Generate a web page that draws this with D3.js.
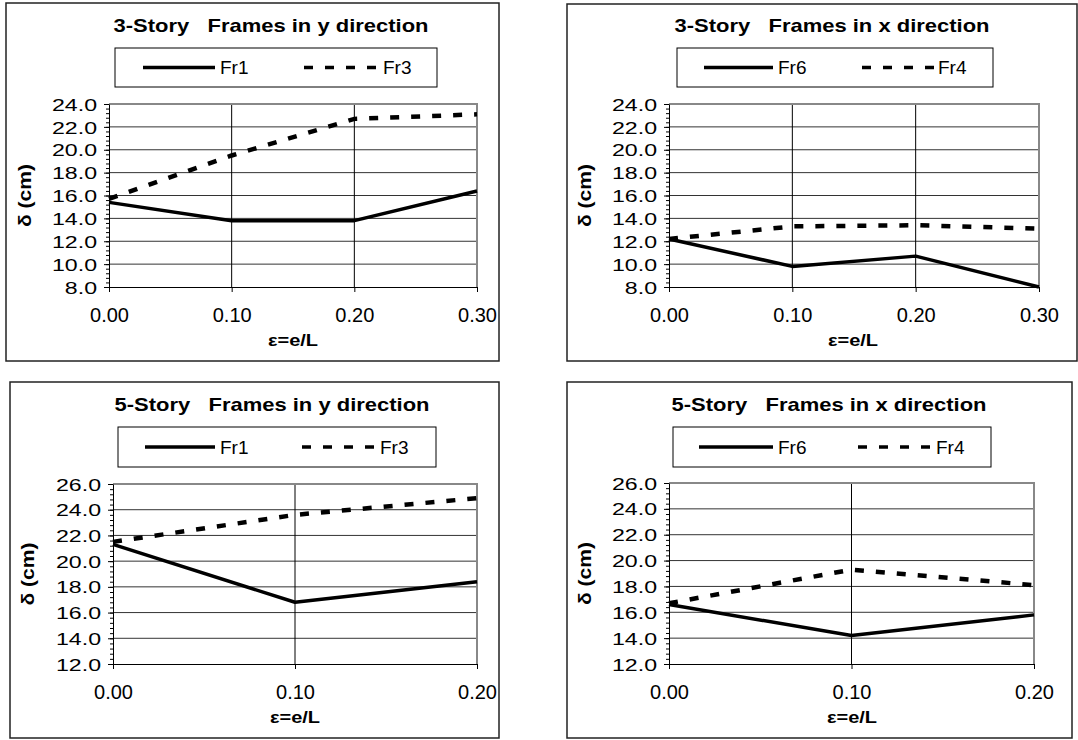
<!DOCTYPE html>
<html>
<head>
<meta charset="UTF-8">
<script src="https://d3js.org/d3.v7.min.js"></script>
<style>
  body { margin: 0; background: #fff; }
  svg text { font-family: "Liberation Sans", Arial, sans-serif; fill: #000; }
  .ttl { white-space: pre; }
</style>
</head>
<body>
<svg id="chart" width="1078" height="740"></svg>
<script>
// eccentricity values
const xs3 = [0, 0.1, 0.2, 0.3];
const xs5 = [0, 0.1, 0.2];
const xTicks3 = [0, 0.1, 0.2, 0.3];
const xTicks5 = [0, 0.1, 0.2];
const yTicks3 = [8, 10, 12, 14, 16, 18, 20, 22, 24];
const yTicks5 = [12, 14, 16, 18, 20, 22, 24, 26];

// drift values (cm)
const fr1_3y = [15.4, 13.8, 13.8, 16.4];
const fr3_3y = [15.7, 19.5, 22.7, 23.1];
const fr6_3x = [12.2, 9.8, 10.7, 8.0];
const fr4_3x = [12.2, 13.3, 13.4, 13.1];
const fr1_5y = [21.3, 16.8, 18.4];
const fr3_5y = [21.5, 23.6, 24.9];
const fr6_5x = [16.6, 14.2, 15.8];
const fr4_5x = [16.7, 19.3, 18.1];

const titles = ["3-Story   Frames in y direction", "3-Story   Frames in x direction",
                "5-Story   Frames in y direction", "5-Story   Frames in x direction"];
const solidNames = ["Fr1", "Fr6", "Fr1", "Fr6"];
const dashNames = ["Fr3", "Fr4", "Fr3", "Fr4"];

const panels = [
  {box: [6, 3, 499, 361], plot: [109, 104, 477, 287], xs: xs3, xt: xTicks3, yt: yTicks3,
   solid: fr1_3y, dash: fr3_3y, tX: 271, tY: 25, legBox: [115, 48, 437, 87], leg: [143, 215, 304, 380],
   dX: 25, eX: 293, eY: 340},
  {box: [567, 4, 1077, 361], plot: [669, 104, 1039, 287], xs: xs3, xt: xTicks3, yt: yTicks3,
   solid: fr6_3x, dash: fr4_3x, tX: 832, tY: 25, legBox: [677, 48, 993, 87], leg: [704, 773, 862, 935],
   dX: 585, eX: 853, eY: 340},
  {box: [10, 382, 499, 738], plot: [113, 484, 477, 664], xs: xs5, xt: xTicks5, yt: yTicks5,
   solid: fr1_5y, dash: fr3_5y, tX: 272, tY: 404, legBox: [118, 427, 436, 467], leg: [145, 215, 302, 377],
   dX: 28, eX: 295, eY: 717},
  {box: [567, 382, 1072, 738], plot: [669, 483, 1034, 664], xs: xs5, xt: xTicks5, yt: yTicks5,
   solid: fr6_5x, dash: fr4_5x, tX: 829, tY: 404, legBox: [673, 427, 991, 467], leg: [699, 773, 858, 933],
   dX: 585, eX: 852, eY: 717}
];

const svg = d3.select("#chart");

// widen a text element horizontally (the scanned chart is stretched)
function stretch(sel, k) {
  sel.each(function () {
    const w = this.getComputedTextLength();
    d3.select(this).attr("textLength", w * k).attr("lengthAdjust", "spacingAndGlyphs");
  });
}

panels.forEach((p, i) => {
  const [bx0, by0, bx1, by1] = p.box;
  const [px0, py0, px1, py1] = p.plot;
  const g = svg.append("g");

  g.append("rect").attr("x", bx0).attr("y", by0).attr("width", bx1 - bx0).attr("height", by1 - by0)
    .attr("fill", "none").attr("stroke", "#222").attr("stroke-width", 1.5);

  g.append("text").attr("class", "ttl").attr("x", p.tX).attr("y", p.tY)
    .attr("text-anchor", "middle").attr("dy", "0.35em")
    .style("font-size", "19px").style("font-weight", "bold").text(titles[i])
    .attr("textLength", 315).attr("lengthAdjust", "spacingAndGlyphs");

  // legend
  const [lx0, ly0, lx1, ly1] = p.legBox;
  const ly = (ly0 + ly1) / 2;
  g.append("rect").attr("x", lx0).attr("y", ly0).attr("width", lx1 - lx0).attr("height", ly1 - ly0)
    .attr("fill", "none").attr("stroke", "#000").attr("stroke-width", 1);
  g.append("line").attr("x1", p.leg[0]).attr("x2", p.leg[1]).attr("y1", ly).attr("y2", ly)
    .attr("stroke", "#000").attr("stroke-width", 3.5);
  g.append("text").attr("x", p.leg[1] + 5).attr("y", ly).attr("dy", "0.36em")
    .style("font-size", "19px").text(solidNames[i]);
  g.append("line").attr("x1", p.leg[2]).attr("x2", p.leg[3]).attr("y1", ly).attr("y2", ly)
    .attr("stroke", "#000").attr("stroke-width", 3.5).attr("stroke-dasharray", "9,12");
  g.append("text").attr("x", p.leg[3] + 3).attr("y", ly).attr("dy", "0.36em")
    .style("font-size", "19px").text(dashNames[i]);

  const x = d3.scaleLinear().domain([p.xt[0], p.xt[p.xt.length - 1]]).range([px0, px1]);
  const y = d3.scaleLinear().domain([p.yt[0], p.yt[p.yt.length - 1]]).range([py1, py0]);

  // grid
  g.append("g").selectAll("line").data(p.yt.slice(1, -1)).join("line")
    .attr("x1", px0).attr("x2", px1).attr("y1", d => y(d)).attr("y2", d => y(d))
    .attr("stroke", "#333").attr("stroke-width", 1);
  g.append("g").selectAll("line").data(p.xt.slice(1, -1)).join("line")
    .attr("x1", d => x(d)).attr("x2", d => x(d)).attr("y1", py0).attr("y2", py1)
    .attr("stroke", "#000").attr("stroke-width", 1);
  // plot frame top / right
  g.append("path").attr("d", `M${px0},${py0}H${px1}V${py1}`)
    .attr("fill", "none").attr("stroke", "#888").attr("stroke-width", 2);

  // minor ticks
  const minor = d3.range(p.yt[0], p.yt[p.yt.length - 1] + 0.001, 0.4);
  g.append("g").attr("transform", `translate(${px0},0)`)
    .call(d3.axisLeft(y).tickValues(minor).tickSize(3).tickFormat(""))
    .call(a => a.select(".domain").remove());

  const ya = g.append("g").attr("transform", `translate(${px0},0)`)
    .call(d3.axisLeft(y).tickValues(p.yt).tickSize(5).tickSizeOuter(0).tickPadding(7).tickFormat(d3.format(".1f")));
  ya.selectAll("text").style("font-size", "17px").style("font-family", "Liberation Sans, Arial, sans-serif")
    .attr("dy", "0.36em").call(stretch, 1.36);

  const xa = g.append("g").attr("transform", `translate(0,${py1})`)
    .call(d3.axisBottom(x).tickValues(p.xt).tickSize(5).tickSizeOuter(0).tickPadding(16).tickFormat(d3.format(".2f")));
  xa.selectAll("text").style("font-size", "20px").style("font-family", "Liberation Sans, Arial, sans-serif");

  // series
  const line = d3.line().x((d, j) => x(p.xs[j])).y(d => y(d));
  g.append("path").datum(p.dash).attr("d", line).attr("fill", "none")
    .attr("stroke", "#000").attr("stroke-width", 4.5).attr("stroke-dasharray", "9,12");
  g.append("path").datum(p.solid).attr("d", line).attr("fill", "none")
    .attr("stroke", "#000").attr("stroke-width", 3.5).attr("stroke-linejoin", "round");

  // axis titles
  g.append("text").attr("transform", `translate(${p.dX},${(py0 + py1) / 2}) rotate(-90)`)
    .attr("text-anchor", "middle").attr("dy", "0.35em")
    .style("font-size", "18px").style("font-weight", "bold").text("δ (cm)")
    .attr("textLength", 63).attr("lengthAdjust", "spacingAndGlyphs");
  g.append("text").attr("x", p.eX).attr("y", p.eY).attr("text-anchor", "middle").attr("dy", "0.35em")
    .style("font-size", "17px").style("font-weight", "bold").text("ε=e/L")
    .attr("textLength", 50).attr("lengthAdjust", "spacingAndGlyphs");
});
</script>
</body>
</html>
